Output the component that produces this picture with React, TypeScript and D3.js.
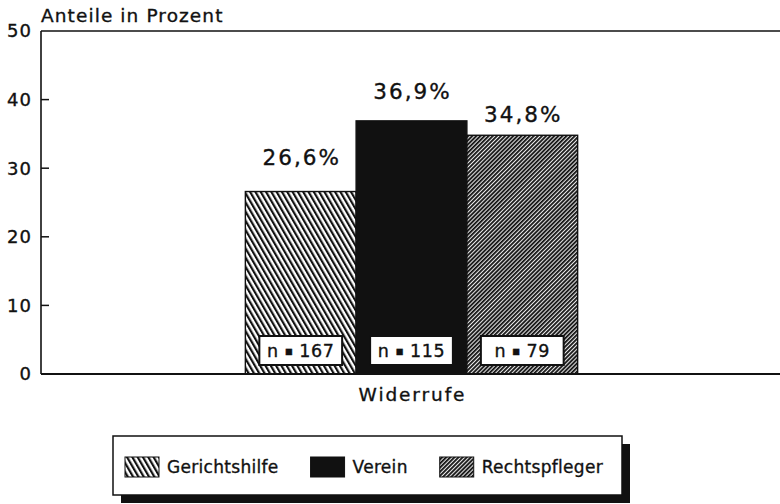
import React, { useEffect, useRef } from 'react';
import * as d3 from 'd3';

const categories = ['Widerrufe'];
const seriesNames = ['Gerichtshilfe', 'Verein', 'Rechtspfleger'];
const values = [26.6, 36.9, 34.8];
const counts = [167, 115, 79];
const valueLabels = ['26,6%', '36,9%', '34,8%'];
const yTicks = [0, 10, 20, 30, 40, 50];
const yTitle = 'Anteile in Prozent';

const W = 780;
const H = 504;
const plot = { left: 41, top: 31, right: 782, bottom: 374 };
const labelLift = [27, 22, 13];
const FONT = '"DejaVu Sans", Verdana, sans-serif';
const INK = '#111';
const fills = ['url(#hatchA)', INK, 'url(#hatchB)'];

export default function App() {
  const ref = useRef<SVGSVGElement>(null);

  useEffect(() => {
    document.body.style.margin = '0';
    const svg = d3.select(ref.current);
    svg.selectAll('*').remove();

    const defs = svg.append('defs');
    const pA = defs.append('pattern').attr('id', 'hatchA').attr('patternUnits', 'userSpaceOnUse')
      .attr('width', 4.6).attr('height', 10).attr('patternTransform', 'rotate(-30)');
    pA.append('rect').attr('width', 4.6).attr('height', 10).attr('fill', '#fff');
    pA.append('line').attr('x1', 1.1).attr('x2', 1.1).attr('y1', 0).attr('y2', 10)
      .attr('stroke', INK).attr('stroke-width', 2.2);
    const pB = defs.append('pattern').attr('id', 'hatchB').attr('patternUnits', 'userSpaceOnUse')
      .attr('width', 2.9).attr('height', 10).attr('patternTransform', 'rotate(45)');
    pB.append('rect').attr('width', 2.9).attr('height', 10).attr('fill', '#e8e8e8');
    pB.append('line').attr('x1', 0.9).attr('x2', 0.9).attr('y1', 0).attr('y2', 10)
      .attr('stroke', INK).attr('stroke-width', 1.8);

    const y = d3.scaleLinear().domain([0, 50]).range([plot.bottom, plot.top]);
    const x0 = d3.scaleBand<string>().domain(categories).range([plot.left, plot.right])
      .paddingInner(0).paddingOuter(0.615);
    const x1 = d3.scaleBand<string>().domain(seriesNames).range([0, x0.bandwidth()]).padding(0);

    const txt = (sel: any, size: number, spacing = 0) =>
      sel.attr('font-family', FONT).attr('font-size', size).attr('letter-spacing', spacing)
        .attr('fill', INK).attr('stroke', INK).attr('stroke-width', 0.35);

    const g = svg.append('g');

    // frame lines
    g.append('line').attr('x1', plot.left).attr('x2', W).attr('y1', y(50)).attr('y2', y(50))
      .attr('stroke', INK).attr('stroke-width', 1.6);
    g.append('line').attr('x1', plot.left).attr('x2', plot.left).attr('y1', y(50)).attr('y2', y(0))
      .attr('stroke', INK).attr('stroke-width', 1.6);

    // ticks
    g.selectAll('line.tick').data(yTicks.filter(t => t > 0 && t < 50)).enter().append('line')
      .attr('x1', plot.left).attr('x2', plot.left + 8)
      .attr('y1', d => y(d)).attr('y2', d => y(d))
      .attr('stroke', INK).attr('stroke-width', 1.5);
    txt(g.selectAll('text.tick').data(yTicks).enter().append('text')
      .attr('x', 32).attr('y', d => y(d)).attr('dy', '0.36em')
      .attr('text-anchor', 'end'), 18, 1).text(d => String(d));

    txt(g.append('text').attr('x', plot.left).attr('y', 22), 18.5, 1.1).text(yTitle);

    categories.forEach(cat => {
      const gx = x0(cat)!;
      seriesNames.forEach((s, i) => {
        const bx = gx + x1(s)!;
        const bw = x1.bandwidth();
        g.append('rect').attr('x', bx).attr('y', y(values[i])).attr('width', bw)
          .attr('height', y(0) - y(values[i])).attr('fill', fills[i])
          .attr('stroke', INK).attr('stroke-width', 1.4);
        txt(g.append('text').attr('x', bx + bw / 2 + 1).attr('y', y(values[i]) - labelLift[i])
          .attr('text-anchor', 'middle'), 21.5, 2).text(valueLabels[i]);
        const boxW = bw - 28;
        g.append('rect').attr('x', bx + 14).attr('y', y(0) - 38).attr('width', boxW).attr('height', 29)
          .attr('fill', '#fff').attr('stroke', INK).attr('stroke-width', 2);
        const nt = txt(g.append('text').attr('x', bx + bw / 2).attr('y', y(0) - 17)
          .attr('text-anchor', 'middle').style('white-space', 'pre'), 17.5, 0.6);
        nt.append('tspan').text('n ');
        nt.append('tspan').attr('font-size', 8).attr('dy', -3).text('\u25A0');
        nt.append('tspan').attr('dy', 3).text(` ${counts[i]}`);
      });
      txt(g.append('text').attr('x', gx + x0.bandwidth() / 2 + 1).attr('y', 401)
        .attr('text-anchor', 'middle'), 18.5, 1.9).text(cat);
    });

    // baseline drawn over bars
    g.append('line').attr('x1', plot.left).attr('x2', W).attr('y1', y(0)).attr('y2', y(0))
      .attr('stroke', INK).attr('stroke-width', 1.8);

    // legend
    const lg = svg.append('g');
    const L = { x: 113, y: 436, w: 509, h: 59 };
    lg.append('rect').attr('x', L.x + 8).attr('y', L.y + 8).attr('width', L.w).attr('height', L.h).attr('fill', INK);
    lg.append('rect').attr('x', L.x).attr('y', L.y).attr('width', L.w).attr('height', L.h)
      .attr('fill', '#fff').attr('stroke', INK).attr('stroke-width', 1.5);
    let cx = 125;
    seriesNames.forEach((s, i) => {
      lg.append('rect').attr('x', cx).attr('y', 457).attr('width', 34).attr('height', 20)
        .attr('fill', fills[i]).attr('stroke', INK).attr('stroke-width', 1);
      const t = txt(lg.append('text').attr('x', cx + 42).attr('y', 473), 17, 0.3).text(s);
      const tw = (t.node() as SVGTextElement).getComputedTextLength();
      cx = cx + 42 + tw + 32;
    });
  }, []);

  return <svg ref={ref} width={W} height={H} style={{ display: 'block', background: '#fff' }} />;
}
